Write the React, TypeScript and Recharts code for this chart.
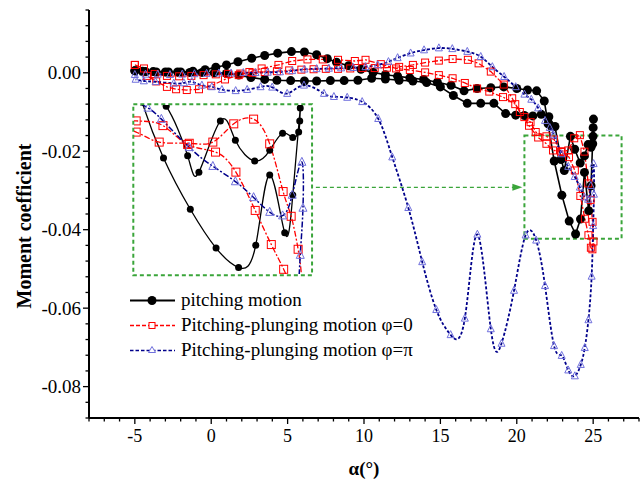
import React from "react";
import { Legend, Line, LineChart, ReferenceArea, ReferenceDot, ReferenceLine, XAxis, YAxis } from "recharts";

// pitching motion: upstroke -5 -> 25, then downstroke 25 -> -5
const blackAlpha = [
  -5.0, -4.3, -3.6, -2.8, -2.0, -1.2, -0.4, 0.3, 1.0, 1.75, 2.65, 3.5, 4.35, 5.25, 6.1, 6.9, 7.6, 8.2, 9.0, 9.8,
  10.6, 11.4, 12.2, 13.0, 13.9, 14.8, 15.7, 16.55, 17.4, 18.3, 19.15, 20.0, 20.7, 21.3, 21.8, 22.05, 22.45, 22.95,
  23.43, 23.85, 24.17, 24.43, 24.71, 24.86, 25.0,
  25.02, 24.99, 24.97, 24.86, 24.67, 24.43, 24.15, 23.79, 23.51, 23.11, 22.9, 22.5, 22.1, 21.6, 21.05, 20.5, 19.93,
  19.27, 18.5, 17.64, 16.76, 15.85, 15.0, 14.1, 13.2, 12.3, 11.4, 10.5, 9.6, 8.7, 7.8, 6.9, 6.1, 5.2, 4.3, 3.5, 2.6,
  1.8, 1.0, 0.2, -0.6, -1.4, -2.2, -3.0, -3.8, -4.5, -5.0,
];
const blackCm = [
  0.0005, 0.0003, 0.0002, 0.0002, 0.0002, 0.0004, 0.0008, 0.0014, 0.002, 0.0028, 0.0037, 0.0044, 0.005, 0.0054,
  0.0053, 0.0046, 0.0036, 0.0027, 0.0018, 0.0009, 0.0001, -0.0005, -0.0009, -0.0013, -0.0017, -0.0024, -0.0032,
  -0.0046, -0.004, -0.0038, -0.0036, -0.004, -0.0044, -0.0046, -0.0072, -0.013, -0.0225, -0.0312, -0.0378, -0.0411,
  -0.0373, -0.0254, -0.0352, -0.0288, -0.014,
  -0.0118, -0.0162, -0.0181, -0.019, -0.0183, -0.0212, -0.023, -0.0195, -0.0162, -0.0249, -0.0221, -0.0137, -0.0112,
  -0.0106, -0.011, -0.0109, -0.0108, -0.0104, -0.0078, -0.0078, -0.0078, -0.0058, -0.0036, -0.0025, -0.0021, -0.0019,
  -0.0016, -0.0014, -0.0019, -0.002, -0.002, -0.0021, -0.0021, -0.002, -0.0019, -0.0017, -0.0012, -0.0006, -0.0002,
  0.0, 0.0001, 0.0001, 0.0002, 0.0002, 0.0003, 0.0004, 0.0005,
];

// pitching-plunging, phi = 0
const redAlpha = [
  -5.0, -4.4, -3.7, -2.9, -2.1, -1.3, -0.5, 0.3, 1.1, 1.9, 2.7, 3.5, 4.3, 5.1, 5.9, 6.7, 7.5, 8.3, 9.1, 9.9, 10.7,
  11.5, 12.3, 13.2, 14.0, 14.9, 15.8, 16.8, 17.5, 18.3, 19.15, 19.7, 20.2, 20.8, 21.4, 21.94, 22.37, 22.93, 23.37,
  23.76, 24.13, 24.43, 24.68, 24.83, 24.96, 25.02,
  24.95, 24.85, 24.69, 24.46, 24.16, 23.8, 23.42, 22.9, 22.44, 21.94, 21.24, 20.9, 20.5, 19.9, 19.1, 18.2, 17.4, 16.6,
  15.8, 14.9, 14.0, 13.0, 12.1, 11.1, 10.1, 9.4, 8.3, 7.3, 6.3, 5.3, 4.4, 3.3, 2.5, 1.8, 0.9, 0.0, -0.8, -1.6, -2.3,
  -2.9, -3.6, -4.2, -5.0,
];
const redCm = [
  0.002, 0.0011, -0.0003, -0.0008, -0.0009, -0.0008, -0.0006, -0.0004, -0.0003, -0.0002, 0.0, 0.0002, 0.0004, 0.0006,
  0.0008, 0.0009, 0.001, 0.001, 0.0011, 0.0012, 0.0012, 0.0013, 0.0015, 0.002, 0.0026, 0.0031, 0.0035, 0.0033, 0.0024,
  0.0003, -0.003, -0.0065, -0.01, -0.0135, -0.0165, -0.0181, -0.0198, -0.02, -0.0198, -0.0167, -0.0159, -0.0201,
  -0.0282, -0.0324, -0.038, -0.043,
  -0.045, -0.0446, -0.0414, -0.0372, -0.0314, -0.0249, -0.0215, -0.0202, -0.017, -0.0162, -0.0151, -0.0126, -0.0113,
  -0.008, -0.0062, -0.0048, -0.004, -0.0026, -0.0014, -0.0006, 0.0001, 0.0007, 0.0011, 0.0022, 0.0033, 0.003, 0.0033,
  0.0034, 0.0034, 0.003, 0.002, 0.0011, 0.0002, -0.0006, -0.0017, -0.0033, -0.0042, -0.0044, -0.0042, -0.0036,
  -0.0022, -0.0008, 0.002,
];

// pitching-plunging, phi = pi
const blueAlpha = [
  -5.0, -4.3, -3.5, -2.7, -1.9, -1.1, -0.3, 0.5, 1.3, 2.1, 2.9, 3.7, 4.5, 5.3, 6.1, 6.9, 7.7, 8.5, 9.3, 10.1, 10.9,
  11.6, 12.2, 13.05, 13.93, 14.9, 15.78, 16.76, 17.64, 18.4, 19.17, 19.93, 20.5, 20.95, 21.4, 21.85, 22.16, 22.41,
  22.93, 23.37, 23.79, 24.13, 24.43, 24.67, 24.85, 25.03,
  25.05, 25.0, 24.9, 24.69, 24.45, 24.19, 23.8, 23.37, 22.94, 22.44, 21.85, 21.27, 20.58, 19.82, 19.0, 18.3, 17.42,
  16.6, 15.67, 14.73, 13.81, 12.9, 11.85, 10.93, 9.88, 8.9, 8.03, 7.38, 6.07, 4.97, 3.99, 3.23, 2.35, 1.6, 0.7, 0.04,
  -0.61, -1.27, -1.79, -2.45, -3.64, -4.41, -4.95,
];
const blueCm = [
  -0.0005, -0.0004, -0.0004, -0.0005, -0.0004, -0.0003, -0.0002, -0.0001, -0.0001, 0.0, 0.0, 0.0001, 0.0002, 0.0005,
  0.0009, 0.001, 0.0011, 0.0012, 0.0013, 0.0015, 0.002, 0.0028, 0.0038, 0.005, 0.0058, 0.0063, 0.0061, 0.0054, 0.0041,
  0.0015, -0.001, -0.0036, -0.0055, -0.0068, -0.009, -0.0122, -0.014, -0.0159, -0.0207, -0.0239, -0.0265, -0.0292,
  -0.0317, -0.0323, -0.0288, -0.0232,
  -0.031, -0.039, -0.0519, -0.063, -0.0701, -0.0744, -0.0773, -0.0758, -0.0721, -0.0696, -0.0543, -0.0427, -0.0414,
  -0.0555, -0.069, -0.0653, -0.0412, -0.0626, -0.0668, -0.0604, -0.0482, -0.0344, -0.0215, -0.0117, -0.0074, -0.0063,
  -0.0061, -0.0053, -0.0032, -0.0053, -0.0037, -0.0036, -0.0043, -0.0046, -0.0043, -0.0036, -0.0032, -0.0023, -0.0026,
  -0.0027, -0.0023, -0.0021, -0.0017,
];

const xTicks = [-8, -7, -6, -5, -4, -3, -2, -1, 0, 1, 2, 3, 4, 5, 6, 7, 8, 9, 10, 11, 12, 13, 14, 15, 16, 17, 18, 19, 20, 21, 22, 23, 24, 25, 26, 27, 28];
const yTicks = [
  0.016, 0.012, 0.008, 0.004, 0, -0.004, -0.008, -0.012, -0.016, -0.02, -0.024, -0.028, -0.032, -0.036, -0.04, -0.044,
  -0.048, -0.052, -0.056, -0.06, -0.064, -0.068, -0.072, -0.076, -0.08, -0.084, -0.088,
];
const legendLabels = ["pitching motion", "Pitching-plunging motion φ=0", "Pitching-plunging motion φ=π"];

const xDomain = [-8, 28];
const yDomain = [-0.088, 0.016];
// zoomed region shown in the inset
const insetX = [21.9, 25.2];
const insetY = [-0.0422, -0.0135];

const zip = (a: number[], c: number[]) => a.map((x, i) => ({ x, y: c[i] }));
const black = zip(blackAlpha, blackCm);
const red = zip(redAlpha, redCm);
const blue = zip(blueAlpha, blueCm);

const SERIF = '"Liberation Serif", "Times New Roman", serif';
const RED = "#ff0000";
const NAVY = "#00008b";
const TRI = "#7070dd";
const GREEN = "#3aa53a";

const square = (size: number) => (p: any) =>
  p.cx == null ? null : (
    <rect key={p.index} x={p.cx - size / 2} y={p.cy - size / 2} width={size} height={size} fill="none" stroke={RED} strokeWidth={1} />
  );
const triangle = (size: number) => (p: any) =>
  p.cx == null ? null : (
    <polygon
      key={p.index}
      points={`${p.cx},${p.cy - size * 0.6} ${p.cx - size / 2},${p.cy + size * 0.4} ${p.cx + size / 2},${p.cy + size * 0.4}`}
      fill="none"
      stroke={TRI}
      strokeWidth={1}
    />
  );

function XTick({ x, y, payload }: any) {
  const major = payload.value % 5 === 0;
  return (
    <g>
      <line x1={x} x2={x} y1={y} y2={y + (major ? 6 : 3.5)} stroke="#000" strokeWidth={1.3} />
      {major && (
        <text x={x} y={y + 24} textAnchor="middle" fontFamily={SERIF} fontSize={18} fill="#000">
          {payload.value}
        </text>
      )}
    </g>
  );
}

function YTick({ x, y, payload }: any) {
  const v = payload.value;
  const major = Math.abs(Math.round(v * 1000)) % 20 === 0;
  return (
    <g>
      <line x1={x} x2={x - (major ? 6 : 3.5)} y1={y} y2={y} stroke="#000" strokeWidth={1.3} />
      {major && (
        <text x={x - 8} y={y + 6.5} textAnchor="end" fontFamily={SERIF} fontSize={19} fill="#000">
          {v.toFixed(2)}
        </text>
      )}
    </g>
  );
}

function glyph(i: number) {
  if (i === 0)
    return (
      <g>
        <line x1={2} x2={47} y1={12.5} y2={12.5} stroke="#000" strokeWidth={2} />
        <circle cx={24} cy={12.5} r={4.5} fill="#000" />
      </g>
    );
  if (i === 1)
    return (
      <g>
        <line x1={2} x2={47} y1={12.5} y2={12.5} stroke={RED} strokeWidth={1.3} strokeDasharray="4 2" />
        <rect x={21} y={9.5} width={6} height={6} fill="#fff" stroke={RED} strokeWidth={1} />
      </g>
    );
  return (
    <g>
      <line x1={2} x2={47} y1={12.5} y2={12.5} stroke={NAVY} strokeWidth={1.5} strokeDasharray="3.5 2" />
      <polygon points="24,8.5 20.5,14.5 27.5,14.5" fill="#fff" stroke={TRI} strokeWidth={1} />
    </g>
  );
}

function LegendBox() {
  return (
    <div style={{ fontFamily: SERIF, fontSize: 19, color: "#000" }}>
      {legendLabels.map((label, i) => (
        <div key={label} style={{ display: "flex", alignItems: "center", height: 25 }}>
          <svg width={53} height={25}>
            {glyph(i)}
          </svg>
          <span style={{ whiteSpace: "nowrap" }}>{label}</span>
        </div>
      ))}
    </div>
  );
}

export default function App() {
  return (
    <div style={{ position: "absolute", left: 0, top: 0, width: 640, height: 482, background: "#fff", overflow: "hidden" }}>
      <LineChart width={640} height={482} margin={{ top: 10, right: 1, bottom: 0, left: 0 }}>
        <XAxis
          type="number"
          dataKey="x"
          domain={xDomain}
          ticks={xTicks}
          interval={0}
          tickSize={0}
          tickMargin={0}
          tick={(p: any) => <XTick {...p} />}
          axisLine={{ stroke: "#000", strokeWidth: 2 }}
          height={64}
          label={() => (
            <text x={364} y={475} textAnchor="middle" fontFamily={SERIF} fontWeight="bold" fontSize={19} fill="#000">
              α(°)
            </text>
          )}
        />
        <YAxis
          type="number"
          domain={yDomain}
          ticks={yTicks}
          interval={0}
          tickSize={0}
          tickMargin={0}
          tick={(p: any) => <YTick {...p} />}
          axisLine={{ stroke: "#000", strokeWidth: 2 }}
          width={89}
          label={() => (
            <text x={31} y={226} transform="rotate(-90 31 226)" textAnchor="middle" fontFamily={SERIF} fontWeight="bold" fontSize={20} fill="#000">
              Moment coefficient
            </text>
          )}
        />
        <ReferenceArea x1={-5.1} x2={6.6} y1={-0.0516} y2={-0.008} fill="none" stroke={GREEN} strokeWidth={2} strokeDasharray="4 3" />
        <ReferenceArea x1={20.5} x2={26.86} y1={-0.0423} y2={-0.016} fill="none" stroke={GREEN} strokeWidth={2} strokeDasharray="4 3" />
        <ReferenceLine segment={[{ x: 6.85, y: -0.0292 }, { x: 20.0, y: -0.0292 }]} stroke={GREEN} strokeWidth={1.2} strokeDasharray="4 3" />
        <ReferenceDot
          x={20.3}
          y={-0.0292}
          shape={(p: any) => (
            <polygon points={`${p.cx - 9},${p.cy - 3.5} ${p.cx + 1},${p.cy} ${p.cx - 9},${p.cy + 3.5}`} fill={GREEN} />
          )}
        />
        <Line data={black} dataKey="y" type="linear" stroke="#000" strokeWidth={1.6} dot={{ r: 4.5, fill: "#000", stroke: "#000", strokeWidth: 0 }} isAnimationActive={false} />
        <Line data={red} dataKey="y" type="linear" stroke={RED} strokeWidth={1.3} strokeDasharray="6 2 2 2" dot={square(7)} isAnimationActive={false} />
        <Line data={blue} dataKey="y" type="natural" stroke={NAVY} strokeWidth={1.8} strokeDasharray="3 2" dot={triangle(7)} isAnimationActive={false} />
        <Legend layout="vertical" align="center" verticalAlign="middle" wrapperStyle={{ left: 128, top: 287.5, width: 360 }} content={() => <LegendBox />} />
      </LineChart>
      <div style={{ position: "absolute", left: 134, top: 105, width: 177, height: 169 }}>
        <LineChart width={177} height={169} margin={{ top: 0, right: 0, bottom: 0, left: 0 }}>
          <XAxis type="number" dataKey="x" domain={insetX} hide allowDataOverflow />
          <YAxis type="number" domain={insetY} hide allowDataOverflow />
          <Line data={black} dataKey="y" type="natural" stroke="#000" strokeWidth={1.3} dot={{ r: 3.5, fill: "#000", stroke: "#000", strokeWidth: 0 }} isAnimationActive={false} />
          <Line data={red} dataKey="y" type="natural" stroke={RED} strokeWidth={1.3} strokeDasharray="6 2 2 2" dot={square(8)} isAnimationActive={false} />
          <Line data={blue} dataKey="y" type="natural" stroke={NAVY} strokeWidth={1.5} strokeDasharray="6 2 2 2" dot={triangle(8)} isAnimationActive={false} />
        </LineChart>
      </div>
    </div>
  );
}
